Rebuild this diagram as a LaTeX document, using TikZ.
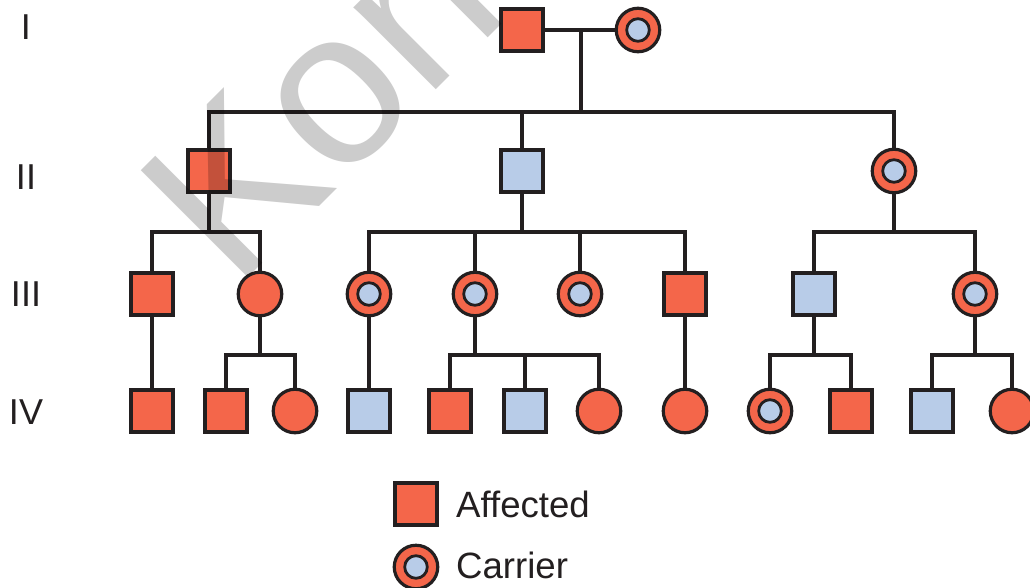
\documentclass[tikz,border=0pt]{standalone}
\usepackage{fontspec}
\setmainfont{Liberation Sans}
\definecolor{ink}{HTML}{231F20}
\definecolor{redf}{HTML}{F4664A}
\definecolor{bluef}{HTML}{B8CCE8}
\definecolor{wm}{HTML}{CCCCCC}
\tikzset{
  person/.style={draw=ink,line width=4.3pt,inner sep=0pt,outer sep=0pt,minimum size=42.5pt},
  affm/.style={person,rectangle,fill=redf},
  norm/.style={person,rectangle,fill=bluef},
  afff/.style={person,circle,fill=redf,line width=3.2pt,minimum size=43.5pt},
  carr/.style={afff,path picture={\draw[ink,line width=2.8pt,fill=bluef] (path picture bounding box.center) circle (11.3pt);}},
  link/.style={draw=ink,line width=4.2pt,line cap=butt,line join=miter},
  gen/.style={font=\fontsize{36}{36}\selectfont,text=ink,inner sep=0pt},
  legend/.style={font=\fontsize{36.6}{36.6}\selectfont,text=ink,inner sep=0pt,anchor=base west}
}
\begin{document}
\begin{tikzpicture}[x=1pt,y=-1pt]
\useasboundingbox (0,0) rectangle (1030,587);
\clip (0,0) rectangle (1030,587);
\fill[white] (0,0) rectangle (1030,587);
% generation I
\node[affm] (a1) at (522,30) {};
\node[carr] (a2) at (638,30) {};
% generation II
\node[affm] (b1) at (209,171) {};
\node[norm] (b2) at (522,171) {};
\node[carr] (b3) at (894,171) {};
% generation III
\node[affm] (c1) at (152,294) {};
\node[afff] (c2) at (260,294) {};
\node[carr] (c3) at (369,294) {};
\node[carr] (c4) at (475,294) {};
\node[carr] (c5) at (580,294) {};
\node[affm] (c6) at (685,294) {};
\node[norm] (c7) at (814,294) {};
\node[carr] (c8) at (975,294) {};
% generation IV
\node[affm] (d1) at (152,411) {};
\node[affm] (d2) at (226,411) {};
\node[afff] (d3) at (295,411) {};
\node[norm] (d4) at (369,411) {};
\node[affm] (d5) at (450,411) {};
\node[norm] (d6) at (525,411) {};
\node[afff] (d7) at (599,411) {};
\node[afff] (d8) at (685,411) {};
\node[carr] (d9) at (770,411) {};
\node[affm] (d10) at (851,411) {};
\node[norm] (d11) at (932,411) {};
\node[afff] (d12) at (1012,411) {};
% junctions
\coordinate (u0) at (581,30);
\coordinate (j0) at (581,112);
\coordinate (j1) at (209,232);
\coordinate (j2) at (522,232);
\coordinate (j3) at (894,232);
\coordinate (j4) at (260,355);
\coordinate (j5) at (475,355);
\coordinate (j6) at (814,355);
\coordinate (j7) at (975,355);
% connectors
\draw[link] (a1) -- (a2);
\draw[link] (u0) -- (j0);
\draw[link] (b1) |- (j0) -| (b3);
\draw[link] (b2) |- (j0);
\draw[link] (b1) -- (j1);
\draw[link] (c1) |- (j1) -| (c2);
\draw[link] (b2) -- (j2);
\draw[link] (c3) |- (j2) -| (c6);
\draw[link] (c4) |- (j2);
\draw[link] (c5) |- (j2);
\draw[link] (b3) -- (j3);
\draw[link] (c7) |- (j3) -| (c8);
\draw[link] (c1) -- (d1);
\draw[link] (c2) -- (j4);
\draw[link] (d2) |- (j4) -| (d3);
\draw[link] (c3) -- (d4);
\draw[link] (c4) -- (j5);
\draw[link] (d5) |- (j5) -| (d7);
\draw[link] (d6) |- (j5);
\draw[link] (c6) -- (d8);
\draw[link] (c7) -- (j6);
\draw[link] (d9) |- (j6) -| (d10);
\draw[link] (c8) -- (j7);
\draw[link] (d11) |- (j7) -| (d12);
% generation labels
\node[gen] (g1) at (26,27) {I};
\node[gen] (g2) at (26,177) {II};
\node[gen] (g3) at (26,294) {III};
\node[gen] (g4) at (26,412) {IV};
% legend
\node[affm] (l1) at (416,504) {};
\node[carr] (l2) at (416,567) {};
\node[legend] (t1) at (456,517) {Affected};
\node[legend] (t2) at (456,578) {Carrier};
% watermark
\begin{scope}[blend mode=multiply]
\node[anchor=base west,inner sep=0pt,text=wm,rotate=45,font=\fontsize{220}{220}\selectfont] (w) at (235,291) {Kon};
\end{scope}
\end{tikzpicture}
\end{document}
